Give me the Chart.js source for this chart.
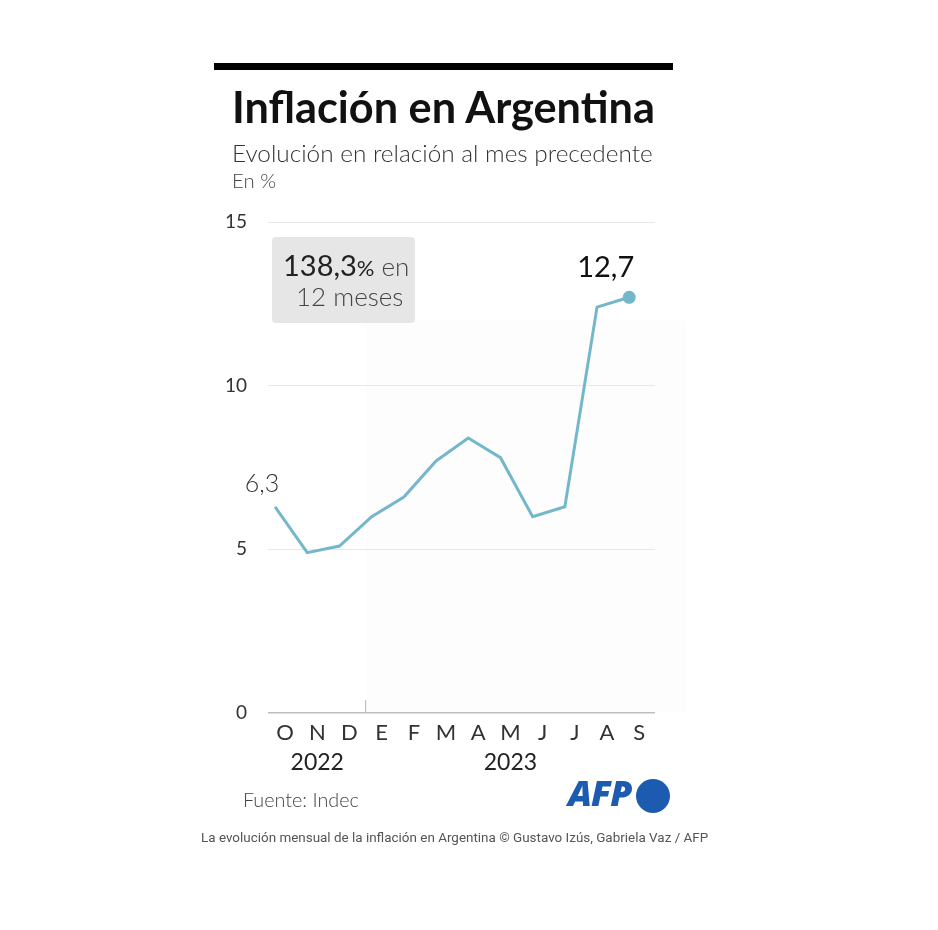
<!DOCTYPE html>
<html><head><meta charset="utf-8">
<script src="https://cdn.jsdelivr.net/npm/chart.js@4.4.1/dist/chart.umd.min.js"></script>
<style>
html,body{margin:0;padding:0;background:#fff}
body{width:938px;height:930px;overflow:hidden;position:relative;font-family:Lato,"Open Sans",sans-serif}
.t{position:absolute;white-space:nowrap;line-height:1;margin:0}
#c{position:absolute;left:0;top:0}
</style></head><body>
<canvas id="c" width="938" height="930"></canvas>
<div style="position:absolute;left:214px;top:63px;width:459px;height:7px;background:#000"></div>
<div class="t" id="title" style="font-weight:700;font-size:44px;color:#111">Inflación en Argentina</div>
<div class="t" id="sub" style="font-size:27px;font-weight:300;color:#333">Evolución en relación al mes precedente</div>
<div class="t" id="unit" style="font-size:19px;font-weight:300;color:#444">En %</div>
<div class="t" id="src" style="font-size:20px;font-weight:300;color:#444">Fuente: Indec</div>
<div class="t" id="afp" style="font-family:'Open Sans',sans-serif;font-weight:800;font-style:italic;font-size:31px;color:#1d5bb0;letter-spacing:-1px">AFP</div>
<div style="position:absolute;left:636px;top:779px;width:34px;height:34px;border-radius:50%;background:#1d5bb0"></div>
<div class="t" id="cap" style="font-family:Roboto,sans-serif;font-size:14px;color:#555">La evolución mensual de la inflación en Argentina © Gustavo Izús, Gabriela Vaz / AFP</div>
<script>
// ---- data ----
const months = ['O','N','D','E','F','M','A','M','J','J','A','S'];
const years = ['2022','2023'];
const yearCenters = [1, 7];          // month index under which each year label is centred
const inflation = [6.3, 4.9, 5.1, 6.0, 6.6, 7.7, 8.4, 7.8, 6.0, 6.3, 12.4, 12.7];
const yTicks = [0, 5, 10, 15];
const firstLabel = '6,3';
const lastLabel = '12,7';
const boxLine1 = ['138,3', '%', ' en'];
const boxLine2 = '12 meses';

// ---- html text placement ----
function fit(el, target){
  const w = el.getBoundingClientRect().width;
  const fs = parseFloat(getComputedStyle(el).fontSize);
  el.style.fontSize = (fs*target/w) + 'px';
}
function place(el, x, baseline){
  el.style.left = x + 'px'; el.style.top = '0px';
  const m = document.createElement('span');
  m.style.cssText = 'display:inline-block;width:0;height:0;vertical-align:baseline';
  el.appendChild(m);
  const off = m.getBoundingClientRect().top - el.getBoundingClientRect().top;
  m.remove();
  el.style.top = (baseline - off) + 'px';
}
const T = id => document.getElementById(id);
fit(T('title'), 423); place(T('title'), 232, 123);
fit(T('sub'), 421); place(T('sub'), 232, 162);
fit(T('unit'), 44); place(T('unit'), 232, 188);
fit(T('src'), 116); place(T('src'), 243, 807);
fit(T('afp'), 63); place(T('afp'), 568, 806);
fit(T('cap'), 508); place(T('cap'), 201, 842);

// ---- chart ----
const FONT = 'Lato';
const LINE = '#74b7ca';
const labelOffset = 10;

const extras = {
  id: 'extras',
  beforeDraw(chart){
    const {ctx, scales:{x, y}} = chart;
    const sx = x.getPixelForValue(2.5) + labelOffset;
    ctx.save();
    ctx.fillStyle = 'rgba(20,20,80,0.006)';
    ctx.fillRect(sx, y.getPixelForValue(12), 686 - sx, y.getPixelForValue(0) - y.getPixelForValue(12));
    // rounded grey box
    const bx = x.left + 4, by = y.getPixelForValue(15) + 15, bw = 143, bh = 86;
    ctx.fillStyle = '#e6e6e6';
    ctx.beginPath();
    ctx.roundRect(bx, by, bw, bh, 4);
    ctx.fill();
    ctx.restore();
  },
  afterDraw(chart){
    const {ctx, scales:{x, y}} = chart;
    const meta = chart.getDatasetMeta(0);
    const p0 = meta.data[0], pN = meta.data[meta.data.length-1];
    ctx.save();
    ctx.textBaseline = 'alphabetic';
    // year separator tick
    const sx = x.getPixelForValue(2.5) + labelOffset;
    ctx.strokeStyle = '#bdbdbd'; ctx.lineWidth = 1.2;
    ctx.beginPath(); ctx.moveTo(sx, y.bottom - 13); ctx.lineTo(sx, y.bottom); ctx.stroke();
    // year labels
    ctx.fillStyle = '#222'; ctx.font = `23px ${FONT}`; ctx.textAlign = 'center';
    years.forEach((yr, i) => ctx.fillText(yr, x.getPixelForValue(yearCenters[i]) + labelOffset, 770));
    // value labels
    ctx.textAlign = 'right'; ctx.fillStyle = '#111'; ctx.font = `29px ${FONT}`;
    ctx.fillText(lastLabel, pN.x + 5, pN.y - 20);
    ctx.textAlign = 'center'; ctx.fillStyle = '#333'; ctx.font = `300 25px ${FONT}`;
    ctx.fillText(firstLabel, p0.x - 13, p0.y - 15);
    // box text
    const bx = x.left + 4, by = y.getPixelForValue(15) + 15;
    ctx.textAlign = 'left';
    let cx = bx + 11;
    ctx.fillStyle = '#222'; ctx.font = `29px ${FONT}`;
    ctx.fillText(boxLine1[0], cx, by + 39); cx += ctx.measureText(boxLine1[0]).width;
    ctx.font = `22px ${FONT}`;
    ctx.fillText(boxLine1[1], cx, by + 39); cx += ctx.measureText(boxLine1[1]).width;
    ctx.fillStyle = '#444'; ctx.font = `300 26px ${FONT}`;
    ctx.fillText(boxLine1[2], cx, by + 39);
    ctx.fillText(boxLine2, bx + 24, by + 69);
    ctx.restore();
  }
};

new Chart(document.getElementById('c'), {
  type: 'line',
  data: {
    datasets: [{
      data: inflation.map((v, i) => ({x: i, y: v})),
      borderColor: LINE,
      backgroundColor: LINE,
      borderWidth: 3,
      tension: 0,
      pointRadius: c => c.dataIndex === inflation.length - 1 ? 5 : 0,
      pointHoverRadius: 0,
      clip: false
    }]
  },
  options: {
    responsive: false,
    animation: false,
    events: [],
    layout: { padding: { top: 222, right: 283, left: 0, bottom: 0 } },
    plugins: { legend: { display: false }, tooltip: { enabled: false } },
    scales: {
      x: {
        type: 'linear',
        min: -0.22, max: 11.8,
        afterBuildTicks: s => { s.ticks = months.map((m, i) => ({value: i})); },
        afterFit: s => { s.height = 930 - 713; },
        grid: { display: false, drawTicks: false },
        border: { display: false },
        ticks: {
          callback: v => months[v],
          autoSkip: false, maxRotation: 0,
          labelOffset: labelOffset,
          padding: 7,
          color: '#333',
          font: { family: FONT, size: 22 }
        }
      },
      y: {
        min: 0, max: 15,
        afterBuildTicks: s => { s.ticks = yTicks.map(v => ({value: v})); },
        afterFit: s => { s.width = 268; },
        grid: {
          drawTicks: false,
          color: c => c.tick && c.tick.value === 0 ? '#bdbdbd' : '#e8e8e8',
          lineWidth: c => c.tick && c.tick.value === 0 ? 1.6 : 1
        },
        border: { display: false },
        ticks: {
          padding: 21,
          color: '#333',
          font: { family: FONT, size: 19 }
        }
      }
    }
  },
  plugins: [extras]
});
</script>
</body></html>
